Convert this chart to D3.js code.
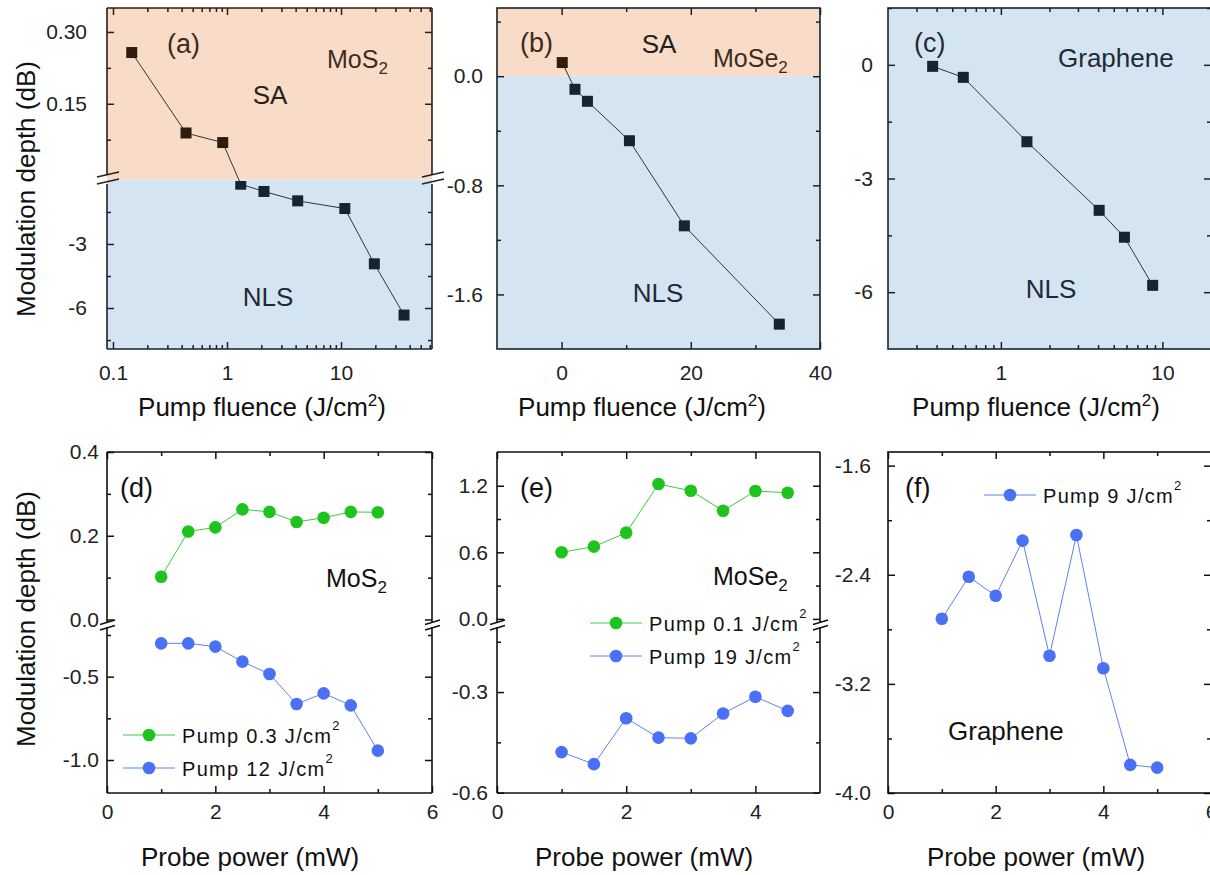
<!DOCTYPE html>
<html><head><meta charset="utf-8">
<script src="https://cdn.jsdelivr.net/npm/d3@7"></script>
<style>
body{margin:0;background:#fff}
svg{display:block}
text{font-family:"Liberation Sans",Arial,sans-serif}
</style>
</head><body>
<svg id="c" width="1210" height="875"></svg>
<script>
// ---------------- data ----------------
const aFluence = [0.146, 0.437, 0.917, 1.32, 2.11, 4.17, 10.8, 19.6, 35.7];
const aDepth   = [0.257, 0.089, 0.069, -0.2, -0.54, -0.98, -1.34, -3.93, -6.33];
const bFluence = [0.1, 2.07, 4.0, 10.5, 19.0, 33.7];
const bDepth   = [0.10, -0.096, -0.184, -0.473, -1.097, -1.818];
const cFluence = [0.378, 0.585, 1.45, 4.06, 5.82, 8.71];
const cDepth   = [-0.04, -0.33, -2.03, -3.84, -4.55, -5.82];
const dProbe   = [1, 1.5, 2, 2.5, 3, 3.5, 4, 4.5, 5];
const dPumpLow = [0.102, 0.210, 0.220, 0.263, 0.257, 0.233, 0.243, 0.257, 0.256];
const dPumpHigh= [-0.30, -0.30, -0.32, -0.41, -0.484, -0.664, -0.60, -0.672, -0.944];
const eProbe   = [1, 1.5, 2, 2.5, 3, 3.5, 4, 4.5];
const ePumpLow = [0.60, 0.651, 0.777, 1.215, 1.155, 0.975, 1.152, 1.137];
const ePumpHigh= [-0.479, -0.515, -0.378, -0.436, -0.438, -0.364, -0.314, -0.356];
const fProbe   = [1, 1.5, 2, 2.5, 3, 3.5, 4, 4.5, 5];
const fDepth   = [-2.723, -2.415, -2.554, -2.150, -2.994, -2.109, -3.085, -3.794, -3.814];

// tick values / labels
const aXMajor = [0.1, 1, 10];
const aXMinor = [0.2,0.3,0.4,0.5,0.6,0.7,0.8,0.9,2,3,4,5,6,7,8,9,20,30,40,50,60];
const aYMajorUp = [0.15, 0.30], aYMinorUp = [0.075, 0.225];
const aYMajorLo = [-3, -6], aYMinorLo = [-1.5, -4.5, -7.5];
const bXMajor = [0, 20, 40], bXMinor = [10, 30];
const bYMajor = [0, -0.8, -1.6], bYMinor = [0.4, -0.4, -1.2];
const cXMajor = [1, 10];
const cXMinor = [0.3,0.4,0.5,0.6,0.7,0.8,0.9,2,3,4,5,6,7,8,9];
const cYMajor = [0, -3, -6], cYMinor = [1.5, -1.5, -4.5];
const dXMajor = [0, 2, 4, 6], dXMinor = [1, 3, 5];
const dYMajorUp = [0.4, 0.2, 0.0], dYMinorUp = [0.3, 0.1];
const dYMajorLo = [-0.5, -1.0], dYMinorLo = [-0.25, -0.75];
const eXMajor = [0, 2, 4], eXMinor = [1, 3];
const eYMajorUp = [1.2, 0.6, 0.0], eYMinorUp = [0.9, 0.3];
const eYMajorLo = [-0.3, -0.6], eYMinorLo = [-0.15, -0.45];
const fXMajor = [0, 2, 4, 6], fXMinor = [1, 3, 5];
const fYMajor = [-1.6, -2.4, -3.2, -4.0], fYMinor = [-2.0, -2.8, -3.6];

const legD = ["Pump 0.3 J/cm", "Pump 12 J/cm"];
const legE = ["Pump 0.1 J/cm", "Pump 19 J/cm"];
const legF = ["Pump 9 J/cm"];

// ---------------- styles ----------------
const FONT = '"Liberation Sans", Arial, sans-serif';
const PEACH = "#f9dcc8", LBLUE = "#d5e4f1";
const BROWN = "#2e1c10", NAVY = "#17232e";
const BROWN_T = "#3d2b1f", NAVY_T = "#1e2a36";
const GREEN = "#1ec31e", GREEN_L = "#3fcb3f";
const BLUE = "#4a70f5", BLUE_L = "#5f82f2";
const TICKC = "#222";

const svg = d3.select("#c");

function styleAx(g, color, labColor, size) {
  g.attr("color", color).attr("font-family", FONT).attr("font-size", size);
  g.select(".domain").remove();
  g.selectAll(".tick line").attr("stroke-width", 1.5);
  g.selectAll(".tick text").attr("fill", labColor);
  return g;
}
function yTicks(x0, x1, y, major, minor, fmt, pad, color) {
  styleAx(svg.append("g").attr("transform", `translate(${x0},0)`)
    .call(d3.axisLeft(y).tickValues(major).tickSize(-7).tickPadding(pad).tickFormat(fmt)), color, TICKC, 21);
  styleAx(svg.append("g").attr("transform", `translate(${x0},0)`)
    .call(d3.axisLeft(y).tickValues(minor).tickSize(-4).tickFormat("")), color, TICKC, 21);
  styleAx(svg.append("g").attr("transform", `translate(${x1},0)`)
    .call(d3.axisRight(y).tickValues(major).tickSize(-7).tickFormat("")), color, TICKC, 21);
  styleAx(svg.append("g").attr("transform", `translate(${x1},0)`)
    .call(d3.axisRight(y).tickValues(minor).tickSize(-4).tickFormat("")), color, TICKC, 21);
}
function xTicks(yTop, yBot, x, major, minor, fmt, pad, colTop, colBot) {
  styleAx(svg.append("g").attr("transform", `translate(0,${yBot})`)
    .call(d3.axisBottom(x).tickValues(major).tickSize(-7).tickPadding(pad).tickFormat(fmt)), colBot, TICKC, 21);
  styleAx(svg.append("g").attr("transform", `translate(0,${yBot})`)
    .call(d3.axisBottom(x).tickValues(minor).tickSize(-4).tickFormat("")), colBot, TICKC, 21);
  styleAx(svg.append("g").attr("transform", `translate(0,${yTop})`)
    .call(d3.axisTop(x).tickValues(major).tickSize(-7).tickFormat("")), colTop, TICKC, 21);
  styleAx(svg.append("g").attr("transform", `translate(0,${yTop})`)
    .call(d3.axisTop(x).tickValues(minor).tickSize(-4).tickFormat("")), colTop, TICKC, 21);
}
function line(x1, y1, x2, y2, c, w) {
  svg.append("line").attr("x1", x1).attr("y1", y1).attr("x2", x2).attr("y2", y2)
    .attr("stroke", c).attr("stroke-width", w || 1.6);
}
function breakMark(x, y, c) {
  line(x - 10, y - 1.5, x + 12, y - 6.5, c, 1.5);
  line(x - 10, y + 5.5, x + 12, y + 0.5, c, 1.5);
}
function breakMarkSmall(x, y, c) {
  line(x - 7, y - 0.5, x + 8, y - 5, c, 1.5);
  line(x - 7, y + 5, x + 8, y + 0.5, c, 1.5);
}
function label(x, y, parts, size, color, anchor) {
  const t = svg.append("text").attr("x", x).attr("y", y).attr("font-size", size)
    .attr("fill", color).attr("text-anchor", anchor || "start");
  parts.forEach(p => {
    const s = t.append("tspan").text(p.t);
    if (p.size) s.attr("font-size", p.size);
    if (p.dy) s.attr("dy", p.dy);
    if (p.ls) s.attr("letter-spacing", p.ls);
  });
  return t;
}
const fmtLog = d => d < 1 ? d.toString() : d.toFixed(0);
const fmt1 = d => d.toFixed(1);
const fmt2 = d => d.toFixed(2);
const fmt0 = d => d.toFixed(0);

function squares(pts, x, clipRect, color) {
  const id = "clip" + Math.random().toString(36).slice(2);
  svg.append("clipPath").attr("id", id).append("rect")
    .attr("x", clipRect[0]).attr("y", clipRect[1]).attr("width", clipRect[2]).attr("height", clipRect[3]);
  svg.append("g").attr("clip-path", `url(#${id})`).selectAll("rect").data(pts).join("rect")
    .attr("x", d => x(d.x) - 5.5).attr("y", d => d.py - 5.5).attr("width", 11).attr("height", 11)
    .attr("fill", color);
}
function circles(pts, x, color) {
  svg.append("g").selectAll("circle").data(pts).join("circle")
    .attr("cx", d => x(d.x)).attr("cy", d => d.py).attr("r", 6.3).attr("fill", color);
}
function path(pts, x, color, w) {
  svg.append("path").datum(pts)
    .attr("d", d3.line().x(d => x(d.x)).y(d => d.py))
    .attr("fill", "none").attr("stroke", color).attr("stroke-width", w || 1);
}
function legendRow(x0, y, text, color, lineColor) {
  line(x0, y, x0 + 52, y, lineColor, 1);
  svg.append("circle").attr("cx", x0 + 26).attr("cy", y).attr("r", 6.3).attr("fill", color);
  label(x0 + 59, y + 8, [{t: text, ls: 1.3}, {t: "2", size: 13, dy: -13}], 20, "#111");
}
function xTitle(x, y, parts) { label(x, y, parts, 26, "#111", "middle"); }
const fluenceTitle = [{t: "Pump fluence (J/cm"}, {t: "2", size: 17, dy: -10}, {t: ")", dy: 10}];
const probeTitle = [{t: "Probe power (mW)"}];

// ================= Panel (a) =================
const A = {l: 107, r: 432, t: 8, b: 349, bu: 178, bl: 181};
const xa = d3.scaleLog().domain([0.0886, 62.8]).range([A.l, A.r]);
const yaU = d3.scaleLinear().domain([0.35, -0.005]).range([A.t, A.bu]);
const yaL = d3.scaleLinear().domain([-0.05, -7.92]).range([A.bl, A.b]);
svg.append("rect").attr("x", A.l).attr("y", A.t).attr("width", A.r - A.l).attr("height", 179.5 - A.t).attr("fill", PEACH);
svg.append("rect").attr("x", A.l).attr("y", 179.5).attr("width", A.r - A.l).attr("height", A.b - 179.5).attr("fill", LBLUE);
const aPts = aFluence.map((x, i) => ({x, y: aDepth[i], py: aDepth[i] >= 0 ? yaU(aDepth[i]) : yaL(aDepth[i])}));
path(aPts, xa, "#333", 1);
squares(aPts.filter(d => d.y >= 0), xa, [A.l, A.t, A.r - A.l, A.bu - A.t], BROWN);
squares(aPts.filter(d => d.y < 0), xa, [A.l, A.bl, A.r - A.l, A.b - A.bl], NAVY);
yTicks(A.l, A.r, yaU, aYMajorUp, aYMinorUp, fmt2, 20, BROWN);
yTicks(A.l, A.r, yaL, aYMajorLo, aYMinorLo, fmt0, 20, NAVY);
xTicks(A.t, A.b, xa, aXMajor, aXMinor, fmtLog, 16, BROWN, NAVY);
// frame
line(A.l, A.t, A.r, A.t, BROWN); line(A.l, A.b, A.r, A.b, NAVY);
line(A.l, A.t, A.l, A.bu - 3, BROWN); line(A.r, A.t, A.r, A.bu - 3, BROWN);
line(A.l, A.bl + 3, A.l, A.b, NAVY); line(A.r, A.bl + 3, A.r, A.b, NAVY);
breakMark(A.l, 178.5, "#222"); breakMark(A.r, 178.5, "#222");
label(167, 53, [{t: "(a)"}], 27, BROWN_T);
label(270, 104, [{t: "SA"}], 26, "#2a2018", "middle");
label(327, 68, [{t: "MoS"}, {t: "2", size: 17, dy: 6}], 25, BROWN_T);
label(268, 306, [{t: "NLS"}], 26, NAVY_T, "middle");
xTitle(262, 416, fluenceTitle);
svg.append("text").attr("transform", "translate(35,189) rotate(-90)").attr("text-anchor", "middle")
  .attr("font-size", 26).attr("fill", "#111").text("Modulation depth (dB)");

// ================= Panel (b) =================
const B = {l: 497, r: 820, t: 8, b: 349};
const xb = d3.scaleLinear().domain([-10, 40]).range([B.l, B.r]);
const yb = d3.scaleLinear().domain([0.5, -2.0]).range([B.t, B.b]);
svg.append("rect").attr("x", B.l).attr("y", B.t).attr("width", B.r - B.l).attr("height", yb(0) - B.t).attr("fill", PEACH);
svg.append("rect").attr("x", B.l).attr("y", yb(0)).attr("width", B.r - B.l).attr("height", B.b - yb(0)).attr("fill", LBLUE);
const bPts = bFluence.map((x, i) => ({x, y: bDepth[i], py: yb(bDepth[i])}));
path(bPts, xb, "#333", 1);
squares(bPts.filter(d => d.y >= 0), xb, [B.l, B.t, B.r - B.l, B.b - B.t], BROWN);
squares(bPts.filter(d => d.y < 0), xb, [B.l, B.t, B.r - B.l, B.b - B.t], NAVY);
yTicks(B.l, B.r, yb, bYMajor, bYMinor, fmt1, 14, NAVY);
xTicks(B.t, B.b, xb, bXMajor, bXMinor, fmt0, 16, NAVY, NAVY);
svg.append("rect").attr("x", B.l).attr("y", B.t).attr("width", B.r - B.l).attr("height", B.b - B.t)
  .attr("fill", "none").attr("stroke", NAVY).attr("stroke-width", 1.6);
label(520, 52, [{t: "(b)"}], 27, BROWN_T);
label(659, 53, [{t: "SA"}], 26, "#22201e", "middle");
label(713, 67, [{t: "MoSe"}, {t: "2", size: 17, dy: 6}], 25, BROWN_T);
label(658, 302, [{t: "NLS"}], 26, NAVY_T, "middle");
xTitle(642, 416, fluenceTitle);

// ================= Panel (c) =================
const C = {l: 888, r: 1211, t: 8, b: 349};
const xc = d3.scaleLog().domain([0.2, 20]).range([C.l, C.r]);
const yc = d3.scaleLinear().domain([1.5, -7.5]).range([C.t, C.b]);
svg.append("rect").attr("x", C.l).attr("y", C.t).attr("width", C.r - C.l).attr("height", C.b - C.t).attr("fill", LBLUE);
const cPts = cFluence.map((x, i) => ({x, y: cDepth[i], py: yc(cDepth[i])}));
path(cPts, xc, "#333", 1);
squares(cPts, xc, [C.l, C.t, C.r - C.l, C.b - C.t], NAVY);
yTicks(C.l, C.r, yc, cYMajor, cYMinor, fmt0, 15, NAVY);
xTicks(C.t, C.b, xc, cXMajor, cXMinor, fmtLog, 16, NAVY, NAVY);
svg.append("rect").attr("x", C.l).attr("y", C.t).attr("width", C.r - C.l).attr("height", C.b - C.t)
  .attr("fill", "none").attr("stroke", NAVY).attr("stroke-width", 1.6);
label(914, 52, [{t: "(c)"}], 27, NAVY_T);
label(1058, 67, [{t: "Graphene"}], 26, NAVY_T);
label(1051, 298, [{t: "NLS"}], 26, NAVY_T, "middle");
xTitle(1036, 416, fluenceTitle);

// ================= Panel (d) =================
const D = {l: 107, r: 432, t: 452, b: 793, bu: 622, bl: 626};
const xd = d3.scaleLinear().domain([0, 6]).range([D.l, D.r]);
const ydU = d3.scaleLinear().domain([0.4, -0.006]).range([D.t, D.bu]);
const ydL = d3.scaleLinear().domain([-0.196, -1.198]).range([D.bl, D.b]);
const dLowPts = dProbe.map((x, i) => ({x, py: ydU(dPumpLow[i])}));
const dHighPts = dProbe.map((x, i) => ({x, py: ydL(dPumpHigh[i])}));
path(dLowPts, xd, GREEN_L); circles(dLowPts, xd, GREEN);
path(dHighPts, xd, BLUE_L); circles(dHighPts, xd, BLUE);
yTicks(D.l, D.r, ydU, dYMajorUp, dYMinorUp, fmt1, 8, "#111");
yTicks(D.l, D.r, ydL, dYMajorLo, dYMinorLo, fmt1, 8, "#111");
xTicks(D.t, D.b, xd, dXMajor, dXMinor, fmt0, 11, "#111", "#111");
line(D.l, D.t, D.r, D.t, "#111"); line(D.l, D.b, D.r, D.b, "#111");
line(D.l, D.t, D.l, D.bu, "#111"); line(D.r, D.t, D.r, D.bu, "#111");
line(D.l, D.bl + 1, D.l, D.b, "#111"); line(D.r, D.bl + 1, D.r, D.b, "#111");
breakMarkSmall(D.l, 625, "#111"); breakMarkSmall(D.r, 625, "#111");
label(120, 497, [{t: "(d)"}], 27, "#111");
label(326, 587, [{t: "MoS"}, {t: "2", size: 17, dy: 6}], 25, "#111");
legendRow(123, 735, legD[0], GREEN, GREEN_L);
legendRow(123, 768, legD[1], BLUE, BLUE_L);
xTitle(250, 866, probeTitle);
svg.append("text").attr("transform", "translate(35,619) rotate(-90)").attr("text-anchor", "middle")
  .attr("font-size", 26).attr("fill", "#111").text("Modulation depth (dB)");

// ================= Panel (e) =================
const E = {l: 497, r: 820, t: 452, b: 793, bu: 622, bl: 626};
const xe = d3.scaleLinear().domain([0, 5]).range([E.l, E.r]);
const yeU = d3.scaleLinear().domain([1.504, -0.028]).range([E.t, E.bu]);
const yeL = d3.scaleLinear().domain([-0.103, -0.601]).range([E.bl, E.b]);
const eLowPts = eProbe.map((x, i) => ({x, py: yeU(ePumpLow[i])}));
const eHighPts = eProbe.map((x, i) => ({x, py: yeL(ePumpHigh[i])}));
path(eLowPts, xe, GREEN_L); circles(eLowPts, xe, GREEN);
path(eHighPts, xe, BLUE_L); circles(eHighPts, xe, BLUE);
yTicks(E.l, E.r, yeU, eYMajorUp, eYMinorUp, fmt1, 9, "#111");
yTicks(E.l, E.r, yeL, eYMajorLo, eYMinorLo, fmt1, 9, "#111");
xTicks(E.t, E.b, xe, eXMajor, eXMinor, fmt0, 11, "#111", "#111");
line(E.l, E.t, E.r, E.t, "#111"); line(E.l, E.b, E.r, E.b, "#111");
line(E.l, E.t, E.l, E.bu, "#111"); line(E.r, E.t, E.r, E.bu, "#111");
line(E.l, E.bl + 1, E.l, E.b, "#111"); line(E.r, E.bl + 1, E.r, E.b, "#111");
breakMarkSmall(E.l, 625, "#111"); breakMarkSmall(E.r, 625, "#111");
label(520, 497, [{t: "(e)"}], 27, "#111");
label(713, 585, [{t: "MoSe"}, {t: "2", size: 17, dy: 6}], 25, "#111");
legendRow(590, 623, legE[0], GREEN, GREEN_L);
legendRow(590, 656, legE[1], BLUE, BLUE_L);
xTitle(644, 866, probeTitle);

// ================= Panel (f) =================
const F = {l: 888, r: 1211, t: 452, b: 793};
const xf = d3.scaleLinear().domain([0, 6]).range([F.l, F.r]);
const yf = d3.scaleLinear().domain([-1.5, -4.0]).range([F.t, F.b]);
const fPts = fProbe.map((x, i) => ({x, py: yf(fDepth[i])}));
path(fPts, xf, BLUE_L); circles(fPts, xf, BLUE);
yTicks(F.l, F.r, yf, fYMajor, fYMinor, fmt1, 17, "#111");
xTicks(F.t, F.b, xf, fXMajor, fXMinor, fmt0, 11, "#111", "#111");
svg.append("rect").attr("x", F.l).attr("y", F.t).attr("width", F.r - F.l).attr("height", F.b - F.t)
  .attr("fill", "none").attr("stroke", "#111").attr("stroke-width", 1.6);
label(905, 497, [{t: "(f)"}], 27, "#111");
legendRow(984, 495, legF[0], BLUE, BLUE_L);
label(948, 740, [{t: "Graphene"}], 26, "#111");
xTitle(1036, 866, probeTitle);
</script>
</body></html>
